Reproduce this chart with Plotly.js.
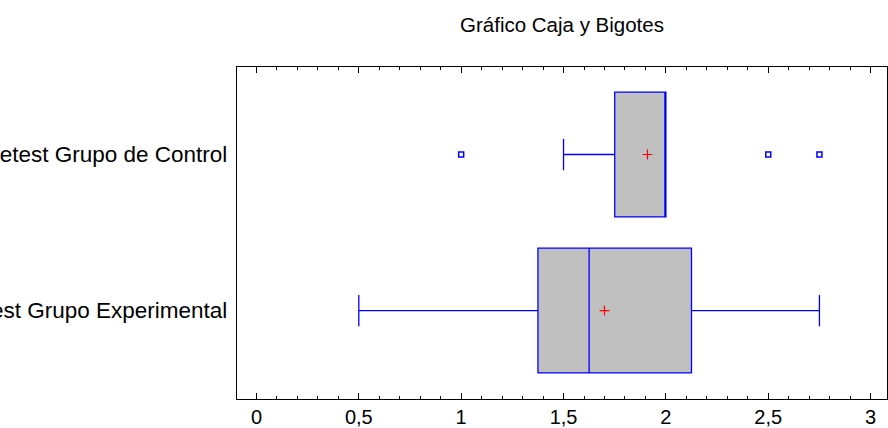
<!DOCTYPE html>
<html>
<head>
<meta charset="utf-8">
<script src="https://cdn.plot.ly/plotly-3.0.1.min.js"></script>
<style>html,body{margin:0;padding:0;background:#fff;}#chart{width:888px;height:428px;}</style>
</head>
<body>
<div id="chart"></div>
<script>
const categories = ["Pretest Grupo Experimental", "Pretest Grupo de Control"];
const lowerFence = [0.5, 1.5];
const q1Values = [1.375, 1.75];
const medianValues = [1.625, 2.0];
const q3Values = [2.125, 2.0];
const upperFence = [2.75, 2.0];
const meanValues = [1.70, 1.91];
const outlierValues = [1.0, 2.5, 2.75];
const outlierCats = ["Pretest Grupo de Control", "Pretest Grupo de Control", "Pretest Grupo de Control"];

const font = "Liberation Sans, Arial, sans-serif";

const traces = [
  {
    type: "box",
    orientation: "h",
    y: categories,
    lowerfence: lowerFence,
    q1: q1Values,
    median: medianValues,
    q3: q3Values,
    upperfence: upperFence,
    boxpoints: false,
    width: 0.8,
    whiskerwidth: 0.25,
    fillcolor: "#C0C0C0",
    line: { color: "#0000FF", width: 1.3 },
    hoverinfo: "skip",
    showlegend: false
  },
  {
    type: "scatter",
    mode: "markers",
    x: meanValues,
    y: categories,
    marker: { symbol: "cross-thin-open", size: 7, color: "#FF0000", line: { color: "#FF0000", width: 1.2 } },
    showlegend: false,
    hoverinfo: "skip"
  },
  {
    type: "scatter",
    mode: "markers",
    x: outlierValues,
    y: outlierCats,
    marker: { symbol: "square-open", size: 5, color: "#0000FF", line: { color: "#0000FF", width: 1.5 } },
    showlegend: false,
    hoverinfo: "skip"
  }
];

const layout = {
  width: 888,
  height: 428,
  paper_bgcolor: "#ffffff",
  plot_bgcolor: "#ffffff",
  separators: ",.",
  margin: { l: 237, r: 1, t: 67, b: 29, pad: 0 },
  title: {
    text: "Gráfico Caja y Bigotes",
    font: { family: font, size: 20.5, color: "#000000" },
    x: 0.5, xref: "paper", xanchor: "center",
    y: 0.943, yref: "container", yanchor: "middle"
  },
  xaxis: {
    range: [-0.095, 3.08],
    tickvals: [0, 0.5, 1, 1.5, 2, 2.5, 3],
    ticks: "inside",
    ticklen: 6,
    tickwidth: 1,
    tickcolor: "#000000",
    minor: { dtick: 0.1, tick0: 0, ticks: "inside", ticklen: 3, tickwidth: 1, tickcolor: "#000000", showgrid: false },
    showline: true,
    linecolor: "#000000",
    linewidth: 1.2,
    mirror: "ticks",
    showgrid: false,
    zeroline: false,
    tickfont: { family: font, size: 20, color: "#000000" }
  },
  yaxis: {
    type: "category",
    categoryorder: "array",
    categoryarray: categories,
    range: [-0.567, 1.561],
    ticks: "",
    showline: true,
    linecolor: "#000000",
    linewidth: 1.2,
    mirror: true,
    showgrid: false,
    zeroline: false,
    ticklabelstandoff: 4,
    tickfont: { family: font, size: 22.5, color: "#000000" }
  }
};

Plotly.newPlot("chart", traces, layout, { staticPlot: true, displayModeBar: false });
</script>
</body>
</html>
